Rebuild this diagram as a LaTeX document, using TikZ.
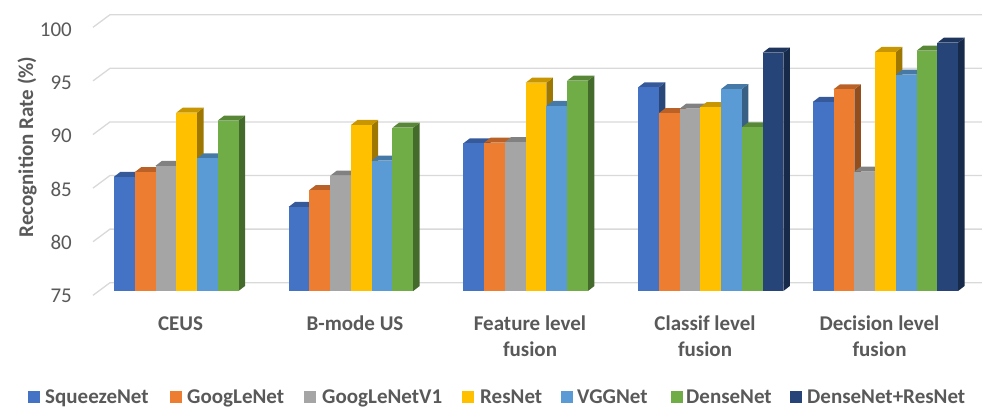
\documentclass[tikz,border=0pt]{standalone}
\usepackage{fontspec}
\setmainfont{Carlito}
\definecolor{c1}{HTML}{4472C4}
\definecolor{c2}{HTML}{ED7D31}
\definecolor{c3}{HTML}{A5A5A5}
\definecolor{c4}{HTML}{FFC000}
\definecolor{c5}{HTML}{5B9BD5}
\definecolor{c6}{HTML}{70AD47}
\definecolor{c7}{HTML}{264478}
\definecolor{txt}{HTML}{595959}
\definecolor{gridc}{HTML}{D9D9D9}
\newcommand\drawbar[3]{%
  \pgfmathsetmacro\yt{291-(#2-75)*10.52}%
  \fill[#3!62!black] (#1+20.75,291) -- ++(6.5,-5) -- (#1+27.25,\yt-5) -- (#1+20.75,\yt) -- cycle;
  \fill[#3!78!black] (#1,\yt) -- ++(6.5,-5) -- ++(20.75,0) -- (#1+20.75,\yt) -- cycle;
  \fill[#3] (#1,291) rectangle (#1+20.75,\yt);
}
\tikzset{
  grid/.style={draw=gridc, line width=1.3pt},
  tick/.style={font=\fontsize{21}{25}\selectfont, text=txt, inner sep=0pt, anchor=east},
  cat/.style={font=\bfseries\fontsize{21}{25}\selectfont, text=txt, inner sep=0pt, anchor=base},
  ytitle/.style={font=\bfseries\fontsize{21}{25}\selectfont, text=txt, inner sep=0pt, rotate=90},
  legtext/.style={font=\bfseries\fontsize{21}{25}\selectfont, text=txt, inner sep=0pt, anchor=base west},
  legmark/.style={minimum size=12pt, inner sep=0pt, anchor=south west}
}
\begin{document}
\begin{tikzpicture}[x=1pt,y=-1pt]
\useasboundingbox (0,0) rectangle (982,407);
% gridlines and tick labels
\foreach \v in {75,80,85,90,95,100} {
  \pgfmathsetmacro\yb{14.7+(100-\v)*10.72}
  \pgfmathsetmacro\yf{27.3+(100-\v)*10.72}
  \coordinate (gf\v) at (93,\yf);
  \coordinate (gb\v) at (110,\yb);
  \coordinate (ge\v) at (982,\yb);
  \draw[grid] (gf\v) -- (gb\v) -- (ge\v);
  \node[tick] (t\v) at (72,{29.5+(100-\v)*10.66}) {\v};
}
% bars
\foreach \g/\vals in {
  0/{85.86,86.3,86.9,91.95,87.6,91.2},
  1/{83.0,84.6,85.96,90.78,87.39,90.52},
  2/{89.04,89.1,89.16,94.8,92.59,94.99},
  3/{94.36,91.9,92.33,92.49,94.2,90.56,97.65},
  4/{92.97,94.17,86.34,97.72,95.56,97.84,98.6}} {
  \foreach \val [count=\k] in \vals {
    \pgfmathsetmacro\xl{114+174.7*\g+20.75*(\k-1)}
    \edef\cn{c\k}
    \drawbar{\xl}{\val}{\cn}
  }
}
% category labels
\node[cat] (cat1) at (180.5,330) {CEUS};
\node[cat] (cat2) at (355,330) {B-mode US};
\node[cat] (cat3a) at (530,330) {Feature level};
\node[cat] (cat3b) at (530,356) {fusion};
\node[cat] (cat4a) at (705,330) {Classif level};
\node[cat] (cat4b) at (705,356) {fusion};
\node[cat] (cat5a) at (879.5,330) {Decision level};
\node[cat] (cat5b) at (879.5,356) {fusion};
% axis title
\node[ytitle] (ytitle) at (27,147) {Recognition Rate (\%)};
% legend
\foreach \i/\mx/\tx/\name in {1/28/45/SqueezeNet, 2/170/187/GoogLeNet, 3/304/322/GoogLeNetV1, 4/462/480/ResNet, 5/561/577/VGGNet, 6/671/686/DenseNet, 7/790/807/DenseNet+ResNet} {
  \node[legmark, fill=c\i] (m\i) at (\mx,403) {};
  \node[legtext] (l\i) at (\tx,403) {\name};
}
\end{tikzpicture}
\end{document}
